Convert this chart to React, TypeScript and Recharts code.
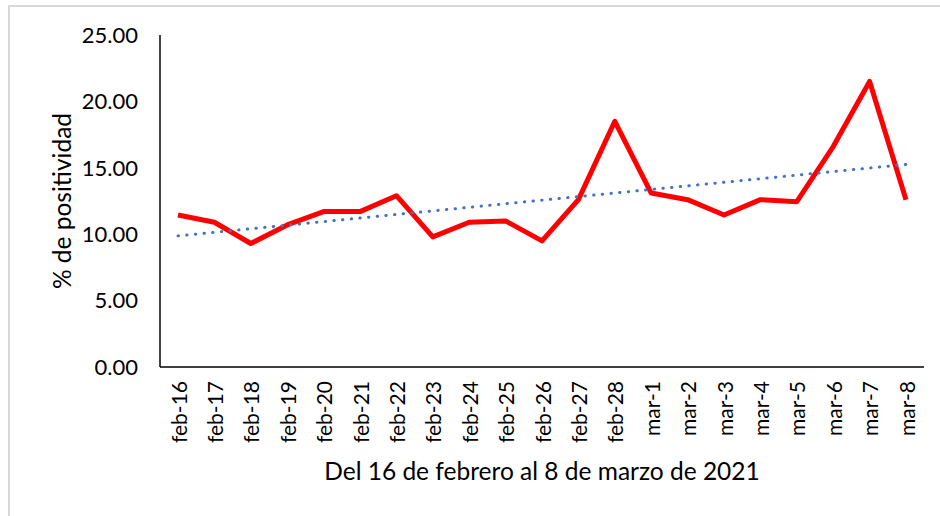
import React from 'react';
import { LineChart, Line, XAxis, YAxis } from 'recharts';

const categories = [
  'feb-16', 'feb-17', 'feb-18', 'feb-19', 'feb-20', 'feb-21', 'feb-22', 'feb-23', 'feb-24', 'feb-25',
  'feb-26', 'feb-27', 'feb-28', 'mar-1', 'mar-2', 'mar-3', 'mar-4', 'mar-5', 'mar-6', 'mar-7', 'mar-8',
];
const positividad = [
  11.45, 10.9, 9.3, 10.7, 11.7, 11.7, 12.9, 9.8, 10.9, 11.0,
  9.5, 12.6, 18.5, 13.1, 12.6, 11.45, 12.6, 12.45, 16.6, 21.5, 12.6,
];
const yTicks = [0, 5, 10, 15, 20, 25];

// Linear trend line (least squares) of the series, as in the original chart
const n = positividad.length;
const meanX = (n - 1) / 2;
const meanY = positividad.reduce((a, b) => a + b, 0) / n;
let sxy = 0;
let sxx = 0;
positividad.forEach((v, i) => {
  sxy += (i - meanX) * (v - meanY);
  sxx += (i - meanX) * (i - meanX);
});
const slope = sxy / sxx;
const intercept = meanY - slope * meanX;

const data = categories.map((c, i) => ({
  name: c,
  value: positividad[i],
  trend: intercept + slope * i,
}));

const FONT = 'Lato, "Open Sans", sans-serif';

const XTick = (props: any) => {
  const { x, y, payload } = props;
  const ty = y + 2;
  return (
    <text
      x={x}
      y={ty}
      transform={`rotate(-90, ${x}, ${ty})`}
      textAnchor="end"
      dominantBaseline="central"
      fontFamily={FONT}
      fontSize={21}
      fill="#000"
    >
      {payload.value}
    </text>
  );
};

export default function App() {
  return (
    <div style={{ position: 'absolute', left: 0, top: 0, width: 940, height: 516, background: '#fff', overflow: 'hidden' }}>
      <div
        style={{
          position: 'absolute',
          left: 8,
          top: 5,
          width: 940,
          height: 540,
          border: '2px solid #d9d9d9',
          boxSizing: 'border-box',
        }}
      />
      <div style={{ position: 'absolute', left: 0, top: 0 }}>
        <LineChart width={940} height={516} data={data} margin={{ top: 35, right: 16, bottom: 0, left: 0 }}>
          <XAxis
            dataKey="name"
            height={149}
            padding={{ left: 18, right: 18 }}
            axisLine={{ stroke: '#000', strokeWidth: 1.5 }}
            tickLine={false}
            tickSize={0}
            tickMargin={12}
            interval={0}
            tick={<XTick />}
            label={{
              value: 'Del 16 de febrero al 8 de marzo de 2021',
              position: 'insideBottom',
              offset: 36,
              style: { fontFamily: FONT, fontSize: 24.5, fill: '#000' },
            }}
          />
          <YAxis
            width={160}
            domain={[0, 25]}
            ticks={yTicks}
            interval={0}
            tickFormatter={(v: number) => v.toFixed(2)}
            axisLine={{ stroke: '#000', strokeWidth: 1.5 }}
            tickLine={false}
            tickSize={0}
            tickMargin={22}
            tick={{ fontFamily: FONT, fontSize: 22, fill: '#000' }}
            label={{
              value: '% de positividad',
              angle: -90,
              position: 'insideLeft',
              offset: 62,
              style: { fontFamily: FONT, fontSize: 24.5, fill: '#000', textAnchor: 'middle' },
            }}
          />
          <Line
            type="linear"
            dataKey="value"
            stroke="#ff0000"
            strokeWidth={5}
            strokeLinejoin="round"
            dot={false}
            activeDot={false}
            isAnimationActive={false}
          />
          <Line
            type="linear"
            dataKey="trend"
            stroke="#4472c4"
            strokeWidth={3}
            strokeDasharray="0.4 8.3"
            strokeLinecap="round"
            dot={false}
            activeDot={false}
            isAnimationActive={false}
          />
        </LineChart>
      </div>
    </div>
  );
}
